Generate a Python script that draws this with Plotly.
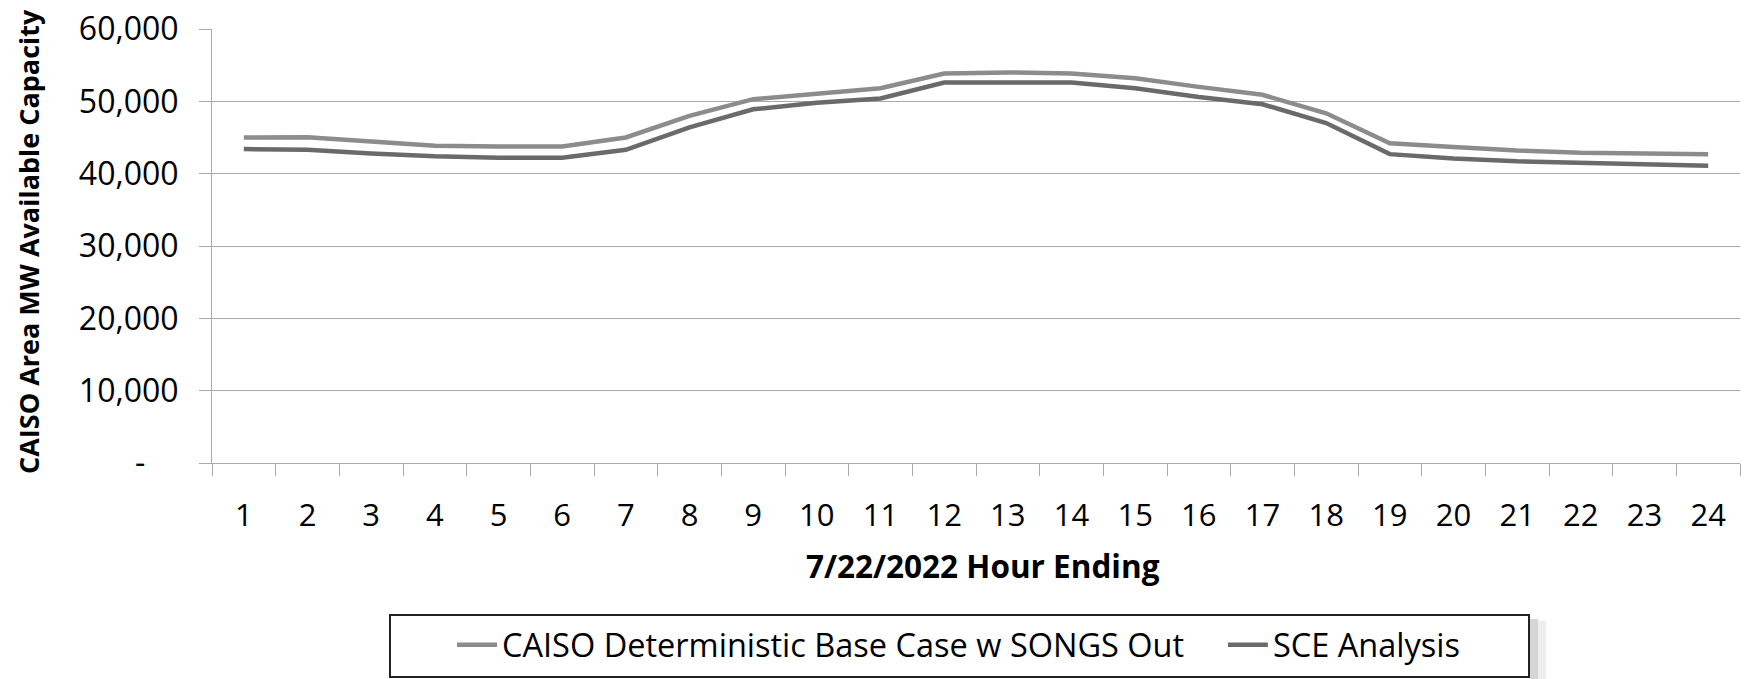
import plotly.graph_objects as go

hours = [str(h) for h in range(1, 25)]
caiso_base = [45000, 45050, 44450, 43850, 43760, 43760, 45000, 48000, 50300, 51100, 51800, 53850,
              54000, 53850, 53200, 52000, 50900, 48350, 44200, 43700, 43200, 42900, 42750, 42700]
sce_analysis = [43400, 43300, 42800, 42400, 42200, 42200, 43300, 46400, 48900, 49800, 50400, 52600,
                52600, 52600, 51800, 50600, 49600, 47000, 42700, 42100, 41700, 41500, 41400, 41100]
y_tickvals = [0, 10000, 20000, 30000, 40000, 50000, 60000]
y_ticktext = ["-\u00a0\u00a0\u00a0\u00a0", "10,000", "20,000", "30,000", "40,000", "50,000", "60,000"]

FONT = "Open Sans"
GRID = "#a9a9a9"

# plot area in pixels
L, R, T, B = 212, 1740, 29, 463
PW, PH = R - L, B - T


def px_x(p):
    return (p - L) / PW


def px_y(p):
    return (B - p) / PH


fig = go.Figure()
fig.add_trace(go.Scatter(x=hours, y=caiso_base, mode="lines",
                         name="CAISO Deterministic Base Case w SONGS Out" + "\u00a0" * 4,
                         line=dict(color="#8c8c8c", width=4.5)))
fig.add_trace(go.Scatter(x=hours, y=sce_analysis, mode="lines",
                         name="SCE Analysis",
                         line=dict(color="#6a6a6a", width=4.5)))

fig.update_layout(
    width=1744, height=679,
    margin=dict(l=L, r=1744 - R, t=T, b=679 - B),
    paper_bgcolor="white", plot_bgcolor="white",
    font=dict(family=FONT, color="black"),
    showlegend=True,
    legend=dict(orientation="h", x=px_x(452), y=px_y(645), xanchor="left", yanchor="middle",
                borderwidth=0, bgcolor="rgba(0,0,0,0)", itemwidth=40,
                font=dict(family=FONT, size=32.5, color="black"), traceorder="normal"),
)
fig.update_xaxes(type="category", tickson="boundaries", range=[-0.5, 23.5],
                 ticks="outside", ticklen=12, automargin=False,
                 tickcolor=GRID, showline=True, linecolor=GRID, linewidth=1,
                 showgrid=False, tickfont=dict(family=FONT, size=31, color="black"),
                 ticklabelstandoff=25, fixedrange=True)
fig.update_yaxes(range=[0, 60000], tickvals=y_tickvals, ticktext=y_ticktext,
                 ticks="outside", ticklen=12, tickcolor=GRID, automargin=False,
                 showgrid=True, gridcolor=GRID, gridwidth=1,
                 showline=True, linecolor=GRID, linewidth=1, zeroline=False,
                 tickfont=dict(family=FONT, size=32, color="black"),
                 ticklabelstandoff=14, fixedrange=True)

fig.add_annotation(text="<b>CAISO Area MW Available Capacity</b>", xref="paper", yref="paper",
                   x=px_x(28), y=px_y(242), xanchor="center", yanchor="middle", textangle=-90,
                   showarrow=False, font=dict(family=FONT, size=27, color="black"))
fig.add_annotation(text="<b>7/22/2022 Hour Ending</b>", xref="paper", yref="paper",
                   x=px_x(983), y=px_y(565), xanchor="center", yanchor="middle",
                   showarrow=False, font=dict(family=FONT, size=31.5, color="black"))

# legend frame with a soft shadow on the right
fig.add_shape(type="rect", xref="paper", yref="paper", layer="below",
              x0=px_x(1530), x1=px_x(1538), y0=px_y(679), y1=px_y(619),
              line=dict(width=0), fillcolor="#d6d6d6")
fig.add_shape(type="rect", xref="paper", yref="paper", layer="below",
              x0=px_x(1538), x1=px_x(1546), y0=px_y(679), y1=px_y(621),
              line=dict(width=0), fillcolor="#eeeeee")
fig.add_shape(type="rect", xref="paper", yref="paper", layer="above",
              x0=px_x(390), x1=px_x(1529), y0=px_y(677), y1=px_y(615),
              line=dict(color="#222222", width=2), fillcolor="rgba(0,0,0,0)")

fig.write_html("out.html", config={"displayModeBar": False},
               post_script="document.body.style.margin='0px';")
